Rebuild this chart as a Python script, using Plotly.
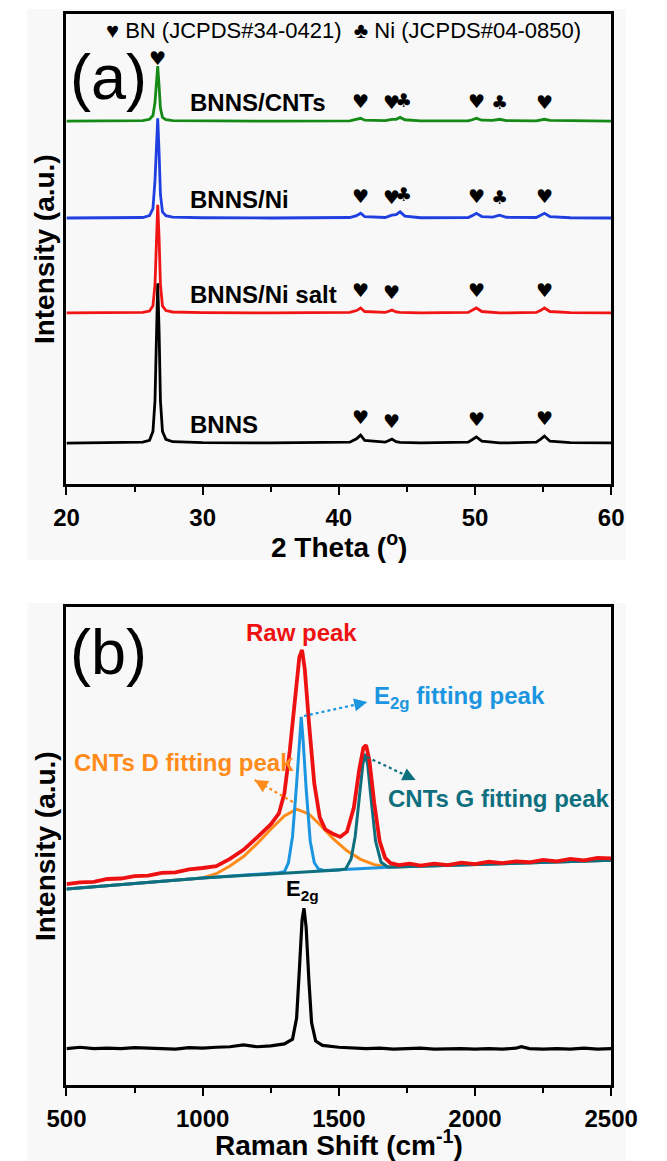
import plotly.graph_objects as go

W, H = 667, 1161

# ---------------- (a) XRD data ----------------
xrd_2theta = [20, 24, 25.6, 26.1, 26.35, 26.5, 26.6, 26.7, 26.8, 26.9, 27.05, 27.3, 27.8, 30, 35,
              40.8, 41.3, 41.6, 41.9, 43.4, 43.9, 44.2, 44.5, 44.85, 46, 49.5, 49.8, 50.1, 50.5,
              51.3, 51.8, 52.3, 54.5, 54.8, 55.1, 55.5, 57, 60]
xrd_bnns = [0, 0.05, 0.2, 0.6, 2.5, 9, 22, 34, 24, 9, 2.5, 0.8, 0.3, 0.1, 0.05,
            0.2, 0.9, 1.7, 0.6, 0.2, 0.85, 0.3, 0.15, 0.1, 0.05, 0.2, 0.7, 1.3, 0.4,
            0.1, 0.05, 0.05, 0.2, 0.8, 1.5, 0.4, 0.1, 0.05]
xrd_ni_salt = [0, 0, 0.1, 0.4, 1.5, 6, 15, 23, 16, 6, 1.5, 0.5, 0.2, 0.05, 0,
               0.1, 0.5, 1.05, 0.3, 0.1, 0.6, 0.2, 0.1, 0.05, 0, 0.1, 0.5, 1.05, 0.3,
               0.05, 0, 0, 0.1, 0.5, 1.05, 0.3, 0.05, 0]
xrd_ni = [0, 0, 0.1, 0.5, 2, 8, 16, 21.2, 14, 5, 1.3, 0.5, 0.2, 0.05, 0,
          0.1, 0.5, 1.0, 0.3, 0.1, 0.6, 0.7, 1.3, 0.4, 0.05, 0.1, 0.5, 1.0, 0.3,
          0.2, 0.6, 0.15, 0.1, 0.5, 1.0, 0.3, 0.05, 0]
xrd_cnts = [0, 0, 0.1, 0.4, 1.2, 4, 8.5, 11.7, 7.5, 2.8, 0.8, 0.3, 0.1, 0.05, 0,
            0.05, 0.3, 0.6, 0.2, 0.1, 0.4, 0.4, 0.8, 0.3, 0.05, 0.05, 0.3, 0.6, 0.2,
            0.15, 0.4, 0.1, 0.05, 0.2, 0.4, 0.15, 0.05, 0]
xrd_names = ["BNNS", "BNNS/Ni salt", "BNNS/Ni", "BNNS/CNTs"]
xrd_series = [xrd_bnns, xrd_ni_salt, xrd_ni, xrd_cnts]
xrd_offsets = [8.7, 36.4, 56.6, 77.2]
xrd_colors = ["#000000", "#f01414", "#1f3fe0", "#168a16"]
bn_peaks = [41.6, 43.9, 50.1, 55.1]
ni_peaks = [44.75, 51.8]
xrd_has_ni = [False, False, True, True]

# ---------------- (b) Raman data ----------------
raman_x_raw = [500, 550, 600, 650, 700, 750, 800, 850, 900, 950, 1000,
               1050, 1100, 1150, 1200, 1250,
               1280, 1300, 1320, 1340, 1355, 1365, 1375, 1390, 1410, 1430, 1450, 1480,
               1505, 1530, 1555, 1575, 1590, 1600, 1612, 1630, 1650, 1670, 1690, 1720,
               1760, 1800, 1850, 1900, 1950, 2000, 2050, 2100, 2150, 2200, 2250, 2300,
               2350, 2400, 2450, 2500]
raman_raw = [42.0, 42.4, 42.5, 43.1, 43.2, 43.7, 43.8, 44.4, 44.5, 45.1, 45.4,
             45.8, 47.3, 49.2, 51.8, 54.5,
             56.8, 61.0, 70.0, 82.0, 89.5, 91.0, 87.0, 76.0, 63.0, 56.0, 53.5, 52.5,
             51.9, 53.0, 58.0, 66.0, 70.5, 71.1, 68.0, 59.0, 51.0, 47.5, 46.4, 46.0,
             46.3, 45.9, 46.3, 46.0, 46.5, 46.2, 46.7, 46.4, 46.8, 46.6, 47.1, 46.8,
             47.3, 47.0, 47.5, 47.4]
raman_x_e2g = [500, 1000, 1280, 1300, 1315, 1330, 1345, 1355, 1362, 1369, 1380, 1395, 1410,
               1425, 1445, 1700, 2500]
raman_e2g = [41.0, 43.3, 44.4, 44.6, 46.5, 52, 63, 72, 77, 72, 62, 51, 46.5,
             45.2, 44.9, 45.6, 47.0]
raman_x_d = [500, 1000, 1050, 1100, 1150, 1200, 1250, 1300, 1345, 1390, 1430, 1480, 1530,
             1580, 1630, 1680, 1700, 2500]
raman_d = [41.0, 43.3, 44.2, 45.8, 47.8, 50.5, 53.5, 56.3, 57.7, 56.7, 54.5, 51.5, 49.0,
           47.2, 46.1, 45.6, 45.6, 47.0]
raman_x_g = [500, 1000, 1500, 1525, 1545, 1560, 1575, 1588, 1597, 1606, 1620, 1635, 1655,
             1680, 1700, 2500]
raman_g = [41.0, 43.3, 45.0, 45.2, 47.3, 52, 60, 67, 69.3, 67, 59, 51, 46.6,
           45.6, 45.6, 47.0]
raman_x_bn = [500, 550, 600, 650, 700, 750, 800, 850, 900, 950, 1000, 1050, 1100, 1150,
              1200, 1250, 1300, 1330, 1345, 1355, 1365, 1372, 1380, 1390, 1400, 1415, 1440,
              1500, 1550, 1600, 1650, 1700, 1750, 1800, 1850, 1900, 1950, 2000, 2050, 2100,
              2150, 2170, 2200, 2250, 2300, 2350, 2400, 2450, 2500]
raman_bn = [7.6, 7.9, 7.6, 7.7, 7.6, 7.8, 7.7, 7.6, 7.5, 7.8, 7.7, 7.9, 8.0, 8.4,
            8.0, 8.2, 8.6, 9.6, 14, 24, 34.5, 37.0, 33, 22, 13, 9.2, 8.3,
            7.9, 7.8, 7.6, 7.7, 7.5, 7.6, 7.7, 7.5, 7.6, 7.6, 7.5, 7.6, 7.5,
            7.7, 8.0, 7.6, 7.5, 7.6, 7.5, 7.7, 7.5, 7.6]

FONT = "Liberation Sans, Arial, sans-serif"


def py(p):
    return 1 - p / H


def px(p):
    return p / W


fig = go.Figure()

# XRD traces
for s, off, col, name in zip(xrd_series, xrd_offsets, xrd_colors, xrd_names):
    fig.add_trace(go.Scatter(x=xrd_2theta, y=[v + off for v in s], mode="lines",
                             line=dict(color=col, width=2.8), name=name,
                             xaxis="x", yaxis="y", showlegend=False))

# Raman traces
fig.add_trace(go.Scatter(x=raman_x_bn, y=raman_bn, mode="lines",
                         line=dict(color="#000000", width=3.2), xaxis="x2", yaxis="y2",
                         showlegend=False))
fig.add_trace(go.Scatter(x=raman_x_d, y=raman_d, mode="lines",
                         line=dict(color="#ff8c1a", width=3), xaxis="x2", yaxis="y2",
                         showlegend=False))
fig.add_trace(go.Scatter(x=raman_x_e2g, y=raman_e2g, mode="lines",
                         line=dict(color="#1b95e0", width=3), xaxis="x2", yaxis="y2",
                         showlegend=False))
fig.add_trace(go.Scatter(x=raman_x_g, y=raman_g, mode="lines",
                         line=dict(color="#0e6f7f", width=3), xaxis="x2", yaxis="y2",
                         showlegend=False))
fig.add_trace(go.Scatter(x=raman_x_raw, y=raman_raw, mode="lines",
                         line=dict(color="#ee1111", width=3.8), xaxis="x2", yaxis="y2",
                         showlegend=False))

ann = []
shapes = []

# background panels
shapes.append(dict(type="rect", xref="paper", yref="paper", x0=px(8), x1=px(652),
                   y0=py(560), y1=py(9), fillcolor="#f8f8f8", line=dict(width=0),
                   layer="below"))
shapes.append(dict(type="rect", xref="paper", yref="paper", x0=px(8), x1=px(652),
                   y0=py(1161), y1=py(603), fillcolor="#f8f8f8", line=dict(width=0),
                   layer="below"))

# XRD labels and markers
for s, off, name, has_ni in zip(xrd_series, xrd_offsets, xrd_names, xrd_has_ni):
    ann.append(dict(x=28.9, y=off + 4.0, xref="x", yref="y", text="<b>%s</b>" % name,
                    showarrow=False, xanchor="left", yanchor="middle",
                    font=dict(family=FONT, size=24, color="black")))
    marks = [(p, "\u2665") for p in bn_peaks]
    if has_ni:
        marks += [(p, "\u2663") for p in ni_peaks]
    for p, sym in marks:
        h = max(v for xx, v in zip(xrd_2theta, s) if abs(xx - p) <= 0.35)
        ann.append(dict(x=p, y=off + h + 1.0, xref="x", yref="y", text=sym,
                        showarrow=False, xanchor="center", yanchor="bottom",
                        font=dict(family="DejaVu Sans", size=19, color="black")))

ann.append(dict(x=26.7, y=xrd_offsets[3] + max(xrd_cnts) + 1.7, xref="x", yref="y",
                text="\u2665", showarrow=False, yanchor="middle",
                font=dict(family="DejaVu Sans", size=19, color="black")))
ann.append(dict(x=px(348), y=py(30), xref="paper", yref="paper",
                text="\u2665 BN (JCPDS#34-0421)  \u2663 Ni (JCPDS#04-0850)",
                showarrow=False, xanchor="center", yanchor="middle",
                font=dict(family=FONT, size=22, color="black")))
ann.append(dict(x=px(52), y=py(77), xref="paper", yref="paper", text="(a)",
                showarrow=False, xanchor="left", yanchor="middle",
                font=dict(family=FONT, size=63, color="black")))
ann.append(dict(x=px(52), y=py(652), xref="paper", yref="paper", text="(b)",
                showarrow=False, xanchor="left", yanchor="middle",
                font=dict(family=FONT, size=63, color="black")))

# Axis titles
for ycen in (249, 846):
    ann.append(dict(x=px(27), y=py(ycen), xref="paper", yref="paper",
                    text="<b>Intensity (a.u.)</b>", textangle=-90, showarrow=False,
                    xanchor="center", yanchor="middle",
                    font=dict(family=FONT, size=28, color="black")))
ann.append(dict(x=px(343), y=py(545), xref="paper", yref="paper",
                text="<b>2 Theta (<sup>o</sup>)</b>", showarrow=False,
                xanchor="center", yanchor="middle",
                font=dict(family=FONT, size=28, color="black")))
ann.append(dict(x=px(343), y=py(1143), xref="paper", yref="paper",
                text="<b>Raman Shift (cm<sup>-1</sup>)</b>", showarrow=False,
                xanchor="center", yanchor="middle",
                font=dict(family=FONT, size=28, color="black")))

# Raman annotations
ann.append(dict(x=1362, y=94.6, xref="x2", yref="y2", text="<b>Raw peak</b>",
                showarrow=False, yanchor="middle",
                font=dict(family=FONT, size=24, color="#ee1111")))
ann.append(dict(x=1621, y=81.0, xref="x2", yref="y2", xanchor="left", yanchor="middle",
                text="<b>E<sub>2g</sub> fitting peak</b>", showarrow=False,
                font=dict(family=FONT, size=24, color="#1b95e0")))
ann.append(dict(x=1673, y=60.0, xref="x2", yref="y2", xanchor="left", yanchor="middle",
                text="<b>CNTs G fitting peak</b>", showarrow=False,
                font=dict(family=FONT, size=24, color="#0e6f7f")))
ann.append(dict(x=520, y=67.4, xref="x2", yref="y2", xanchor="left", yanchor="middle",
                text="<b>CNTs D fitting peak</b>", showarrow=False,
                font=dict(family=FONT, size=24, color="#ff8c1a")))
ann.append(dict(x=1365, y=40.8, xref="x2", yref="y2", yanchor="middle",
                text="<b>E<sub>2g</sub></b>", showarrow=False,
                font=dict(family=FONT, size=22, color="black")))

# dotted arrows
arrows = [((1372, 77.2), (1604, 80.1), "#1b95e0"),
          ((1604, 68.6), (1782, 63.8), "#0e6f7f"),
          ((1331, 59.2), (1191, 63.8), "#ff8c1a")]
for (x0, y0), (x1, y1), col in arrows:
    shapes.append(dict(type="line", xref="x2", yref="y2", x0=x0, y0=y0, x1=x1, y1=y1,
                       line=dict(color=col, width=2.2, dash="dot")))
    fx = x1 - (x1 - x0) * 0.12
    fy = y1 - (y1 - y0) * 0.12
    ann.append(dict(x=x1, y=y1, ax=fx, ay=fy, xref="x2", yref="y2", axref="x2",
                    ayref="y2", text="", showarrow=True, arrowhead=2, arrowsize=1.3,
                    arrowwidth=2, arrowcolor=col))

axis_common = dict(showline=True, linewidth=2.6, linecolor="black", mirror=True,
                   showgrid=False, zeroline=False)

fig.update_layout(
    width=W, height=H,
    margin=dict(l=0, r=0, t=0, b=0),
    paper_bgcolor="white",
    plot_bgcolor="rgba(0,0,0,0)",
    showlegend=False,
    xaxis=dict(domain=[px(50), px(636)], range=[20, 60], anchor="y",
               tickmode="linear", tick0=20, dtick=10, ticks="outside", ticklen=8,
               tickwidth=2.2, tickcolor="black", ticklabelstandoff=2,
               minor=dict(dtick=5, ticks="outside", ticklen=5, tickwidth=2,
                          tickcolor="black"),
               tickfont=dict(family=FONT, size=24, color="black", weight="bold"),
               **axis_common),
    yaxis=dict(domain=[py(484), py(14)], range=[0, 100], anchor="x",
               showticklabels=False, ticks="", **axis_common),
    xaxis2=dict(domain=[px(50), px(636)], range=[500, 2500], anchor="y2",
                tickmode="linear", tick0=500, dtick=500, ticks="outside", ticklen=8,
                tickwidth=2.2, tickcolor="black", ticklabelstandoff=2,
                minor=dict(dtick=250, ticks="outside", ticklen=5, tickwidth=2,
                           tickcolor="black"),
                tickfont=dict(family=FONT, size=24, color="black", weight="bold"),
                **axis_common),
    yaxis2=dict(domain=[py(1085), py(607)], range=[0, 100], anchor="x2",
                showticklabels=False, ticks="", **axis_common),
    annotations=ann,
    shapes=shapes,
)

fig.write_html("out.html")
